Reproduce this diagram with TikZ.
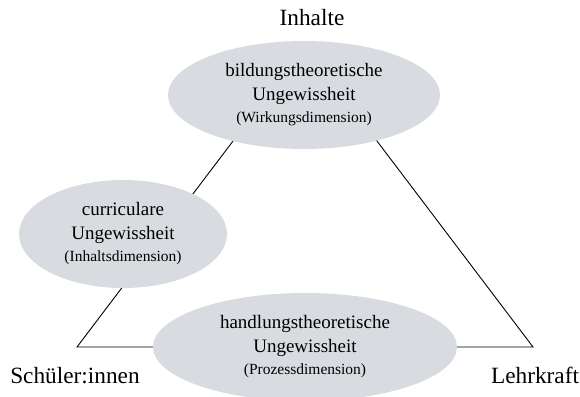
\documentclass[tikz,border=0pt]{standalone}
\usepackage{fontspec}
\setmainfont{Liberation Serif}
\usetikzlibrary{shapes.geometric}
\definecolor{feldgrau}{RGB}{216,219,223}
\tikzset{feld/.style={ellipse,fill=feldgrau,inner sep=0pt,minimum height=108pt,align=center,
  font=\fontsize{19}{24}\selectfont},
  ecke/.style={font=\fontsize{23.3}{28}\selectfont}}
\newcommand{\dimtext}[1]{{\fontsize{15.5}{19}\selectfont #1}}

\begin{document}
\begin{tikzpicture}[x=1pt,y=-1pt,line width=0.9pt]
\useasboundingbox (0,0) rectangle (580,396);
\coordinate (oben) at (305,46);
\coordinate (links) at (77,347);
\coordinate (rechts) at (533,347);
\draw (oben)--(links)--(rechts)--cycle;
\node[feld,minimum width=272pt] (bildung) at (304,95)
  {bildungstheoretische\\Ungewissheit\\[-2pt]\dimtext{(Wirkungsdimension)}};
\node[feld,minimum width=208pt] (curr) at (123,234)
  {curriculare\\Ungewissheit\\[-2pt]\dimtext{(Inhaltsdimension)}};
\node[feld,minimum width=304pt] (handlung) at (305,347)
  {handlungstheoretische\\Ungewissheit\\[-2pt]\dimtext{(Prozessdimension)}};
\node[ecke] (inhalte) at (312,18) {Inhalte};
\node[ecke] (schueler) at (75,376) {Schüler:innen};
\node[ecke] (lehrkraft) at (535,375) {Lehrkraft};
\end{tikzpicture}
\end{document}
